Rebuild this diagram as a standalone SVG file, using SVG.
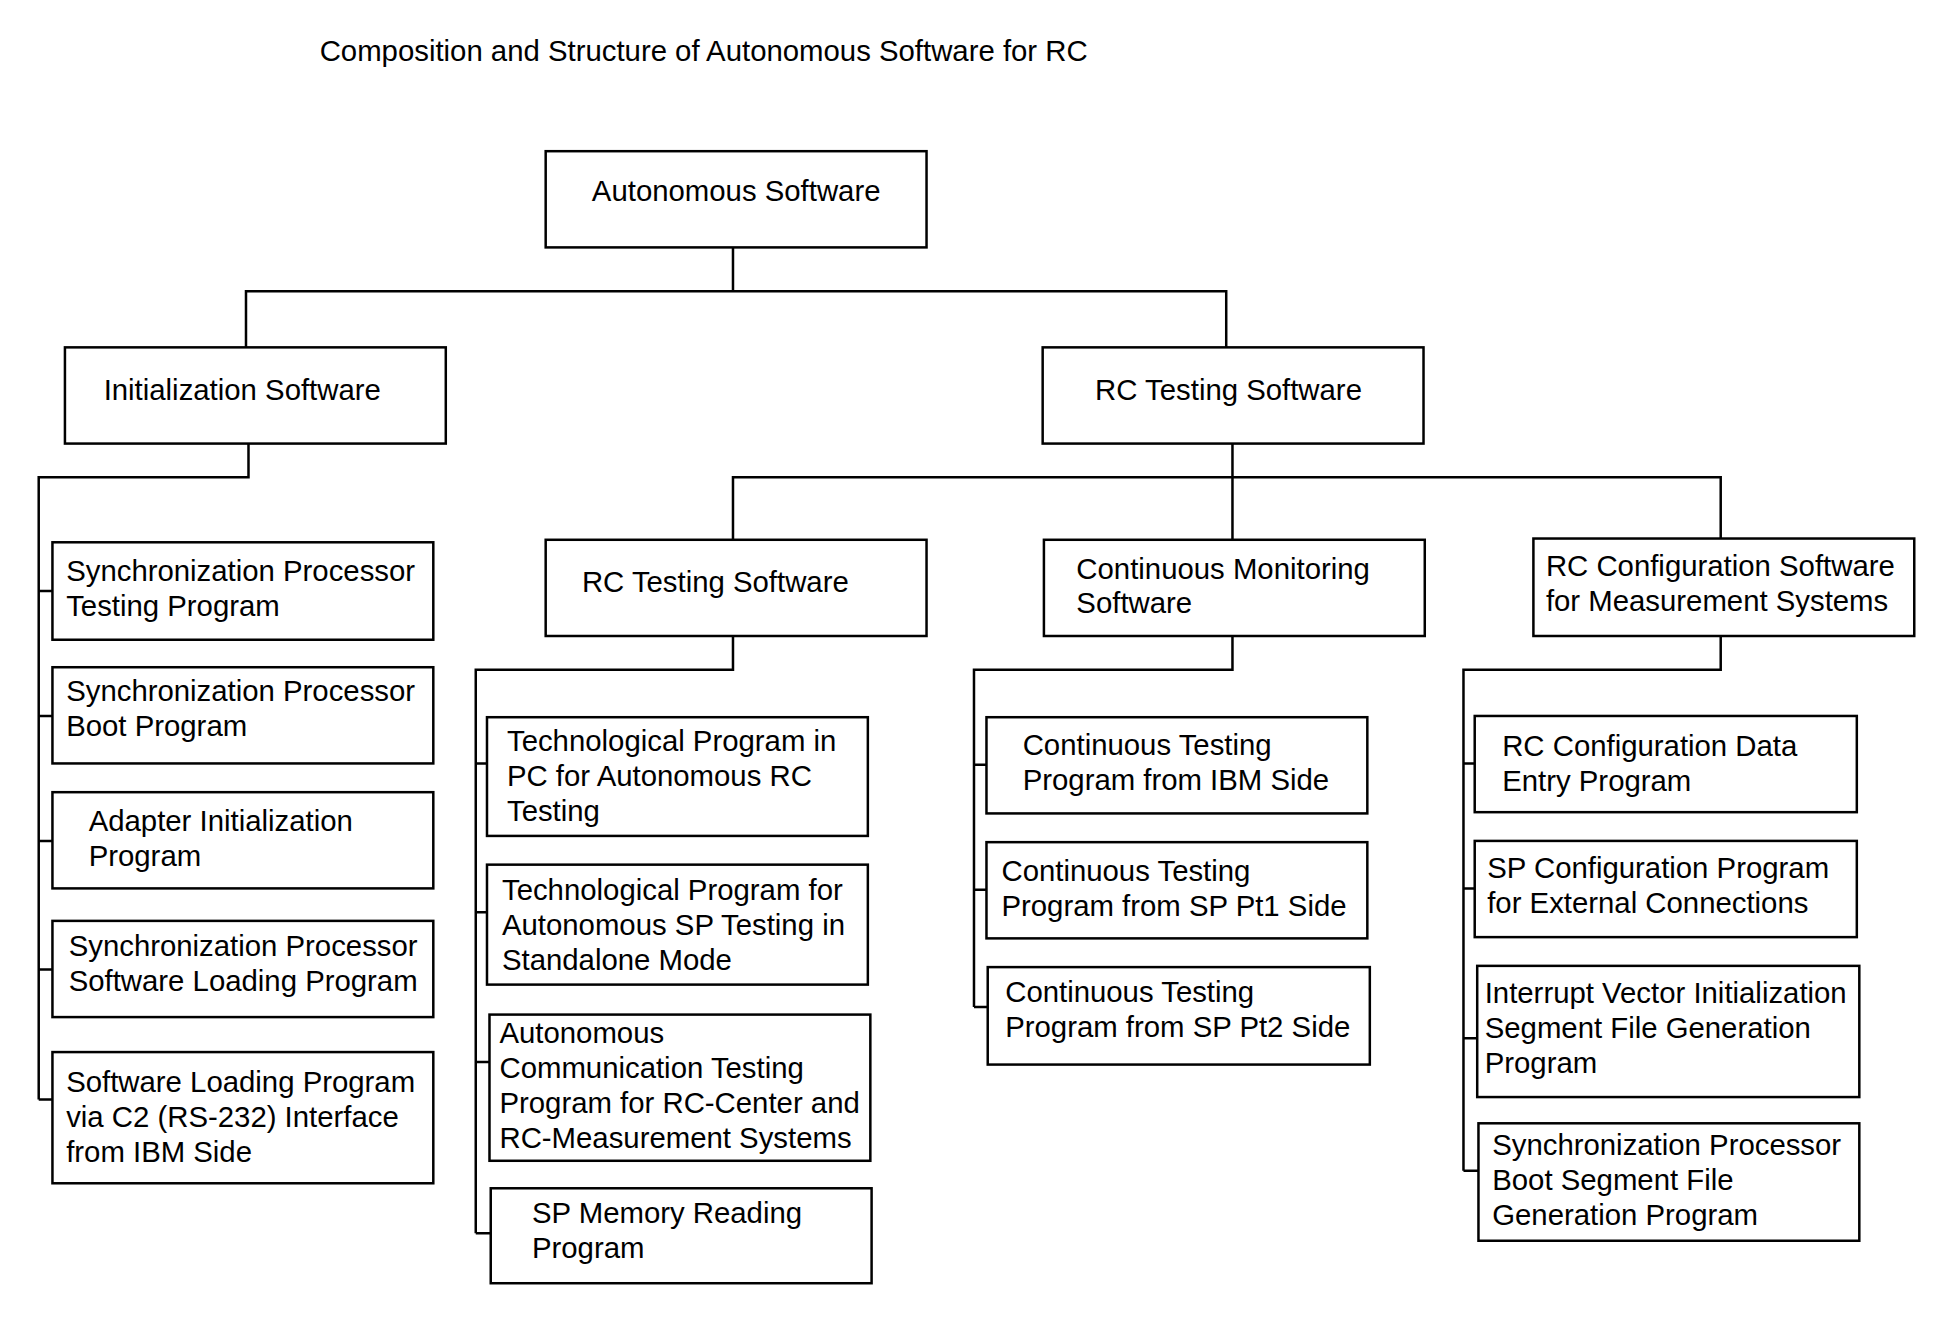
<svg xmlns="http://www.w3.org/2000/svg" width="1958" height="1322" viewBox="0 0 1958 1322">
<style>
rect{fill:#fff;stroke:#000;stroke-width:2}
text{font-family:"Liberation Sans",Arial,sans-serif;font-size:23.5px;fill:#000}
#connectors path{fill:none;stroke:#000;stroke-width:2}
</style>
<rect x="0" y="0" width="1958" height="1322" style="stroke:none"/>
<g transform="scale(1.2487 1.2495)">
<text x="256" y="49">Composition and Structure of Autonomous Software for RC</text>
<g id="connectors">
<path d="M587 198V233M197 278V233H982V278"/>
<path d="M199 355V382H31V880M31 473H42M31 573H42M31 673H42M31 776H42M31 880H42"/>
<path d="M987 355V432M587 432V382H1378V431"/>
<path d="M587 509V536H381V987M381 611H390M381 730H390M381 850H392M381 987H393"/>
<path d="M987 509V536H780V806M780 612H790M780 712H790M780 806H791"/>
<path d="M1378 509V536H1172V937M1172 611H1181M1172 711H1181M1172 831H1183M1172 937H1184"/>
</g>
<g id="root"><rect x="437" y="121" width="305" height="77"/><text x="474" y="161">Autonomous Software</text></g>
<g id="init"><rect x="52" y="278" width="305" height="77"/><text x="83" y="320">Initialization Software</text></g>
<g id="rctest"><rect x="835" y="278" width="305" height="77"/><text x="877" y="320">RC Testing Software</text></g>
<g id="i1"><rect x="42" y="434" width="305" height="78"/><text x="53" y="465">Synchronization Processor</text><text x="53" y="493">Testing Program</text></g>
<g id="i2"><rect x="42" y="534" width="305" height="77"/><text x="53" y="561">Synchronization Processor</text><text x="53" y="589">Boot Program</text></g>
<g id="i3"><rect x="42" y="634" width="305" height="77"/><text x="71" y="665">Adapter Initialization</text><text x="71" y="693">Program</text></g>
<g id="i4"><rect x="42" y="737" width="305" height="77"/><text x="55" y="765">Synchronization Processor</text><text x="55" y="793">Software Loading Program</text></g>
<g id="i5"><rect x="42" y="842" width="305" height="105"/><text x="53" y="874">Software Loading Program</text><text x="53" y="902">via C2 (RS-232) Interface</text><text x="53" y="930">from IBM Side</text></g>
<g id="rc2"><rect x="437" y="432" width="305" height="77"/><text x="466" y="474">RC Testing Software</text></g>
<g id="cms"><rect x="836" y="432" width="305" height="77"/><text x="862" y="463">Continuous Monitoring</text><text x="862" y="491">Software</text></g>
<g id="cfg"><rect x="1228" y="431" width="305" height="78"/><text x="1238" y="461">RC Configuration Software</text><text x="1238" y="489">for Measurement Systems</text></g>
<g id="t1"><rect x="390" y="574" width="305" height="95"/><text x="406" y="601">Technological Program in</text><text x="406" y="629">PC for Autonomous RC</text><text x="406" y="657">Testing</text></g>
<g id="t2"><rect x="390" y="692" width="305" height="96"/><text x="402" y="720">Technological Program for</text><text x="402" y="748">Autonomous SP Testing in</text><text x="402" y="776">Standalone Mode</text></g>
<g id="t3"><rect x="392" y="812" width="305" height="117"/><text x="400" y="835">Autonomous</text><text x="400" y="863">Communication Testing</text><text x="400" y="891">Program for RC-Center and</text><text x="400" y="919">RC-Measurement Systems</text></g>
<g id="t4"><rect x="393" y="951" width="305" height="76"/><text x="426" y="979">SP Memory Reading</text><text x="426" y="1007">Program</text></g>
<g id="c1"><rect x="790" y="574" width="305" height="77"/><text x="819" y="604">Continuous Testing</text><text x="819" y="632">Program from IBM Side</text></g>
<g id="c2"><rect x="790" y="674" width="305" height="77"/><text x="802" y="705">Continuous Testing</text><text x="802" y="733">Program from SP Pt1 Side</text></g>
<g id="c3"><rect x="791" y="774" width="306" height="78"/><text x="805" y="802">Continuous Testing</text><text x="805" y="830">Program from SP Pt2 Side</text></g>
<g id="g1"><rect x="1181" y="573" width="306" height="77"/><text x="1203" y="605">RC Configuration Data</text><text x="1203" y="633">Entry Program</text></g>
<g id="g2"><rect x="1181" y="673" width="306" height="77"/><text x="1191" y="703">SP Configuration Program</text><text x="1191" y="731">for External Connections</text></g>
<g id="g3"><rect x="1183" y="773" width="306" height="105"/><text x="1189" y="803">Interrupt Vector Initialization</text><text x="1189" y="831">Segment File Generation</text><text x="1189" y="859">Program</text></g>
<g id="g4"><rect x="1184" y="899" width="305" height="94"/><text x="1195" y="924">Synchronization Processor</text><text x="1195" y="952">Boot Segment File</text><text x="1195" y="980">Generation Program</text></g>
</g>
</svg>
